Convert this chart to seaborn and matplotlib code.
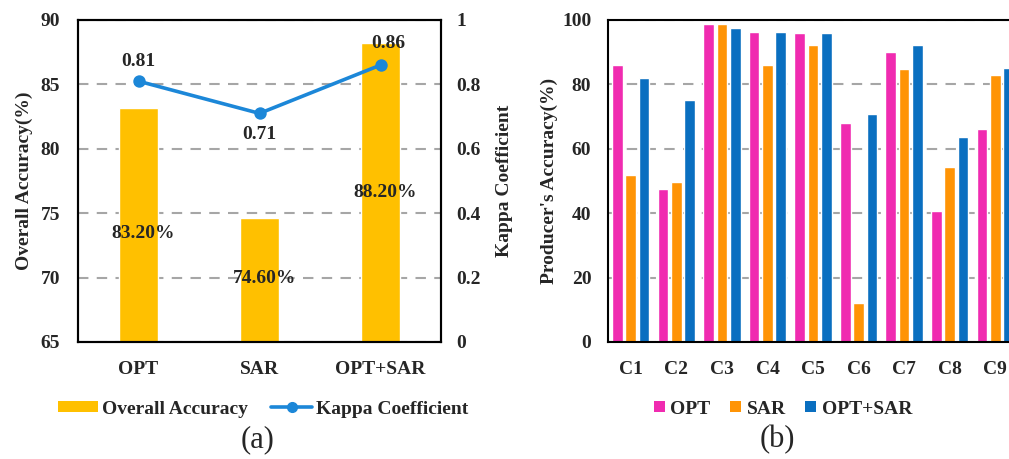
import matplotlib
matplotlib.use("Agg")
import matplotlib.pyplot as plt
import seaborn as sns
import pandas as pd
from matplotlib.patches import Patch
from matplotlib.lines import Line2D

# ---------------- data ----------------
methods = ["OPT", "SAR", "OPT+SAR"]
overall_accuracy = [83.2, 74.6, 88.2]
kappa = [0.81, 0.71, 0.86]
oa_labels = ["83.20%", "74.60%", "88.20%"]
oa_label_y = [73.45, 69.95, 76.6]

classes = ["C1", "C2", "C3", "C4", "C5", "C6", "C7", "C8", "C9"]
pa_opt = [86, 47.5, 98.8, 96.3, 96.0, 68, 90, 40.7, 66]
pa_sar = [52, 49.8, 98.8, 85.9, 92.3, 12, 84.8, 54.5, 83]
pa_optsar = [82, 75.2, 97.5, 96.3, 96.0, 70.8, 92.3, 63.6, 85]

sns.set_theme(style="white")
plt.rcParams["font.family"] = ["Liberation Serif", "DejaVu Serif"]
plt.rcParams["font.weight"] = "bold"

GOLD = "#FFC000"
KBLUE = "#1C87D8"
PINK = "#F02BB0"
ORANGE = "#FF9405"
BLUE = "#0A6FC0"
GRID = "#A6A6A6"
FS = 14

fig = plt.figure(figsize=(10.09, 4.59), dpi=100)

# ---------------- panel (a) ----------------
W, H = 1009, 459
def rect(l, r, t, b):
    return [l / W, 1 - b / H, (r - l) / W, (b - t) / H]

ax1 = fig.add_axes(rect(78, 441, 20, 342))
df_a = pd.DataFrame({"method": methods, "oa": overall_accuracy, "kappa": kappa})
sns.barplot(data=df_a, x="method", y="oa", color=GOLD, saturation=1, width=0.33,
            ax=ax1, zorder=2)
ax1.set_ylim(65, 90)
ax1.set_yticks([65, 70, 75, 80, 85, 90])
ax1.yaxis.grid(True, color=GRID, linestyle=(0, (5, 4)), linewidth=1.5, zorder=0)
ax1.set_axisbelow(True)
ax1.set_xlabel("")
ax1.set_ylabel("Overall Accuracy(%)", fontsize=FS, fontweight="bold", labelpad=5)
ax1.tick_params(axis="both", length=0, labelsize=FS)
ax1.tick_params(axis="y", pad=13)
ax1.tick_params(axis="x", pad=14)
for lab in ax1.get_xticklabels() + ax1.get_yticklabels():
    lab.set_fontweight("bold")
for i, (t, yy) in enumerate(zip(oa_labels, oa_label_y)):
    ax1.text(i + 0.04, yy, t, ha="center", va="center", fontsize=FS, fontweight="bold",
             zorder=5)

ax2 = ax1.twinx()
sns.pointplot(data=df_a, x="method", y="kappa", color=KBLUE, markers="o",
              linestyles="-", markersize=7, linewidth=2.6, ax=ax2, zorder=4)
ax2.set_ylim(0, 1)
ax2.set_yticks([0, 0.2, 0.4, 0.6, 0.8, 1.0])
ax2.set_yticklabels(["0", "0.2", "0.4", "0.6", "0.8", "1"])
ax2.set_ylabel("Kappa Coefficient", fontsize=FS, fontweight="bold", labelpad=11)
ax2.tick_params(axis="y", length=0, labelsize=FS, pad=11)
for lab in ax2.get_yticklabels():
    lab.set_fontweight("bold")
k_offsets = [(0, 20), (0, -21), (8, 22)]
for i, (k, off) in enumerate(zip(kappa, k_offsets)):
    ax2.annotate(f"{k:.2f}", (i, k), xytext=off, textcoords="offset pixels",
                 ha="center", va="center", fontsize=FS, fontweight="bold")

for ax in (ax1, ax2):
    for s in ax.spines.values():
        s.set_color("black")
        s.set_linewidth(1.5)

leg_a = [Patch(facecolor=GOLD, edgecolor="none", label="Overall Accuracy"),
         Line2D([0], [0], color=KBLUE, lw=2.6, marker="o", markersize=7,
                label="Kappa Coefficient")]
fig.legend(handles=leg_a, loc="center", bbox_to_anchor=(263 / W, 1 - 409 / H),
           ncol=2, frameon=False, prop={"size": FS, "weight": "bold"},
           handlelength=2.1, handleheight=0.5, handletextpad=0.2, columnspacing=1.2)
fig.text(258 / W, 1 - 440 / H, "(a)", ha="center", va="center", fontsize=22,
         fontweight="normal")

# ---------------- panel (b) ----------------
ax3 = fig.add_axes(rect(608, 1018, 20, 342))
df_b = pd.DataFrame({
    "cls": classes * 3,
    "pa": pa_opt + pa_sar + pa_optsar,
    "src": ["OPT"] * 9 + ["SAR"] * 9 + ["OPT+SAR"] * 9,
})
sns.barplot(data=df_b, x="cls", y="pa", hue="src", hue_order=methods,
            palette=[PINK, ORANGE, BLUE], saturation=1, width=0.88, gap=0.2,
            ax=ax3, zorder=2, legend=False)
ax3.set_xlim(-0.5, 8.5)
ax3.set_ylim(0, 100)
ax3.set_yticks([0, 20, 40, 60, 80, 100])
ax3.yaxis.grid(True, color=GRID, linestyle=(0, (5, 4)), linewidth=1.5, zorder=0)
ax3.set_axisbelow(True)
ax3.set_xlabel("")
ax3.set_ylabel("Producer's Accuracy(%)", fontsize=FS, fontweight="bold", labelpad=3)
ax3.tick_params(axis="both", length=0, labelsize=FS)
ax3.tick_params(axis="y", pad=12)
ax3.tick_params(axis="x", pad=14)
for lab in ax3.get_xticklabels() + ax3.get_yticklabels():
    lab.set_fontweight("bold")
for s in ax3.spines.values():
    s.set_color("black")
    s.set_linewidth(1.5)

leg_b = [Patch(facecolor=c, edgecolor="none", label=m)
         for c, m in zip([PINK, ORANGE, BLUE], methods)]
fig.legend(handles=leg_b, loc="center", bbox_to_anchor=(783 / W, 1 - 409 / H),
           ncol=3, frameon=False, prop={"size": FS, "weight": "bold"},
           handlelength=0.55, handleheight=0.55, handletextpad=0.3, columnspacing=1.0)
fig.text(777 / W, 1 - 440 / H, "(b)", ha="center", va="center", fontsize=22,
         fontweight="normal")

fig.savefig("out.png", dpi=100)
